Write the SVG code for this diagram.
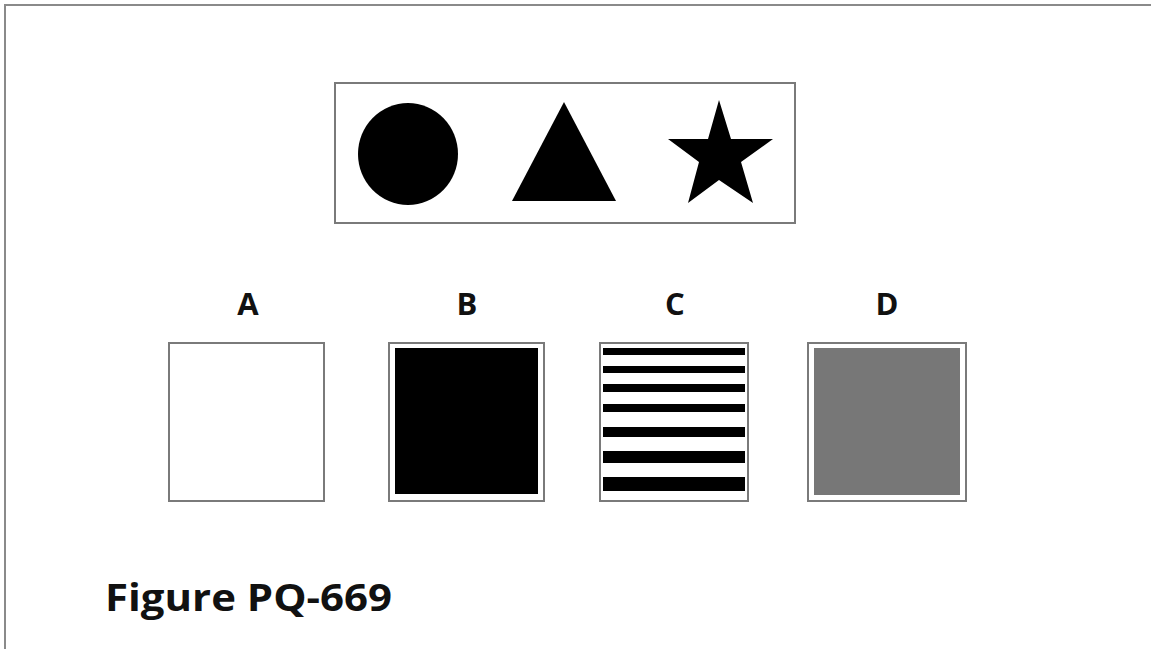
<svg xmlns="http://www.w3.org/2000/svg" width="1151" height="649" viewBox="0 0 1151 649">
  <style>
    .frame { fill: none; stroke: #8a8a8a; stroke-width: 2; }
    .box { fill: #ffffff; stroke: #7a7a7a; stroke-width: 2; }
    .shape { fill: #000000; }
    .label { font-family: "Open Sans", "Liberation Sans", sans-serif; font-weight: 700; fill: #111111; text-anchor: middle; }
    .title { font-family: "Open Sans", "Liberation Sans", sans-serif; font-weight: 700; fill: #111111; }
  </style>
  <rect x="0" y="0" width="1151" height="649" fill="#ffffff"/>
  <path class="frame" d="M5,649 L5,5 L1151,5"/>

  <g id="shapes-panel">
    <rect class="box" x="335" y="83" width="460" height="140"/>
    <ellipse class="shape" cx="408" cy="154" rx="50" ry="51"/>
    <polygon class="shape" points="564,102 616,201 512,201"/>
    <polygon class="shape" points="719,100 731,139 773,139 741,162 753,203 719,180 688,203 699,162 668,139 708,139"/>
  </g>

  <g id="option-A">
    <text class="label" x="248" y="315" font-size="31">A</text>
    <rect class="box" x="169" y="343" width="155" height="158"/>
  </g>

  <g id="option-B">
    <text class="label" x="467" y="315" font-size="31">B</text>
    <rect class="box" x="389" y="343" width="155" height="158"/>
    <rect class="shape" x="395" y="348" width="143" height="146"/>
  </g>

  <g id="option-C">
    <text class="label" x="675" y="315" font-size="31">C</text>
    <rect class="box" x="600" y="343" width="148" height="158"/>
    <rect class="shape" x="603" y="348" width="142" height="7"/>
    <rect class="shape" x="603" y="366" width="142" height="7"/>
    <rect class="shape" x="603" y="384" width="142" height="8"/>
    <rect class="shape" x="603" y="404" width="142" height="8"/>
    <rect class="shape" x="603" y="427" width="142" height="10"/>
    <rect class="shape" x="603" y="451" width="142" height="12"/>
    <rect class="shape" x="603" y="477" width="142" height="14"/>
  </g>

  <g id="option-D">
    <text class="label" x="887" y="315" font-size="31">D</text>
    <rect class="box" x="808" y="343" width="158" height="158"/>
    <rect x="814" y="348" width="146" height="147" fill="#777777"/>
  </g>

  <g id="caption">
    <text class="title" x="105" y="611" font-size="38" textLength="287" lengthAdjust="spacingAndGlyphs">Figure PQ-669</text>
  </g>

  <g id="connectors"/>
</svg>
